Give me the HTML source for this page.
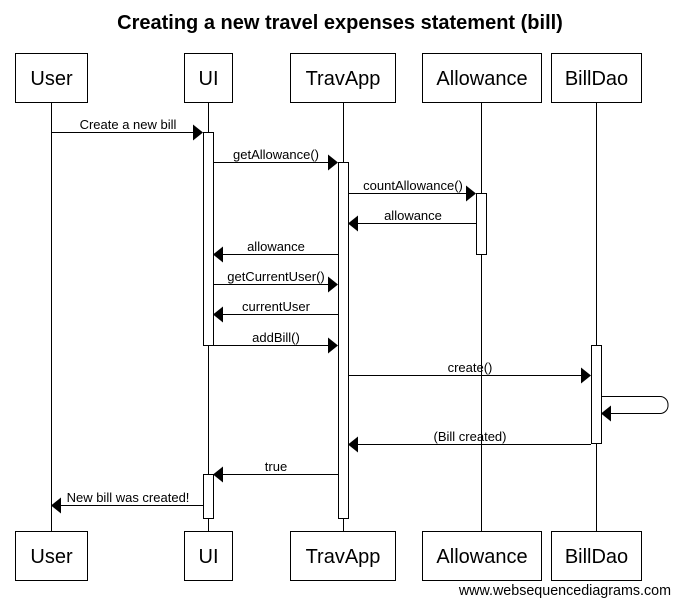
<!DOCTYPE html>
<html><head><meta charset="utf-8"><style>
html,body{margin:0;padding:0;background:#fff;}
svg{display:block;}
text{font-family:"Liberation Sans",Arial,sans-serif;fill:#000;}
</style></head><body>
<svg width="678" height="605" viewBox="0 0 678 605" xmlns="http://www.w3.org/2000/svg">
<text x="340" y="29" font-size="20" font-weight="bold" text-anchor="middle">Creating a new travel expenses statement (bill)</text>
<g stroke="#000" stroke-width="1" fill="none">
<line x1="51.5" y1="102" x2="51.5" y2="532"/>
<line x1="208.5" y1="102" x2="208.5" y2="532"/>
<line x1="343.5" y1="102" x2="343.5" y2="532"/>
<line x1="481.5" y1="102" x2="481.5" y2="532"/>
<line x1="596.5" y1="102" x2="596.5" y2="532"/>
</g>
<g stroke="#000" fill="#fff">
<rect x="15.5" y="53.5" width="72" height="49"/>
<rect x="184.5" y="53.5" width="48" height="49"/>
<rect x="290.5" y="53.5" width="105" height="49"/>
<rect x="422.5" y="53.5" width="119" height="49"/>
<rect x="551.5" y="53.5" width="90" height="49"/>
<rect x="15.5" y="531.5" width="72" height="49"/>
<rect x="184.5" y="531.5" width="48" height="49"/>
<rect x="290.5" y="531.5" width="105" height="49"/>
<rect x="422.5" y="531.5" width="119" height="49"/>
<rect x="551.5" y="531.5" width="90" height="49"/>
</g>
<g font-size="20" text-anchor="middle">
<text x="51.5" y="85">User</text><text x="208.5" y="85">UI</text><text x="343" y="85">TravApp</text><text x="482" y="85">Allowance</text><text x="596.5" y="85">BillDao</text>
<text x="51.5" y="563">User</text><text x="208.5" y="563">UI</text><text x="343" y="563">TravApp</text><text x="482" y="563">Allowance</text><text x="596.5" y="563">BillDao</text>
</g>
<g stroke="#000" fill="#fff">
<rect x="203.5" y="132.5" width="10" height="213"/>
<rect x="203.5" y="474.5" width="10" height="44"/>
<rect x="338.5" y="162.5" width="10" height="356"/>
<rect x="476.5" y="193.5" width="10" height="61"/>
<rect x="591.5" y="345.5" width="10" height="98"/>
</g>
<g stroke="#000" stroke-width="1" fill="none">
<line x1="51" y1="132.5" x2="194" y2="132.5"/>
<line x1="213" y1="162.5" x2="329" y2="162.5"/>
<line x1="348" y1="193.5" x2="467" y2="193.5"/>
<line x1="476" y1="223.5" x2="357" y2="223.5"/>
<line x1="338" y1="254.5" x2="222" y2="254.5"/>
<line x1="213" y1="284.5" x2="329" y2="284.5"/>
<line x1="338" y1="314.5" x2="222" y2="314.5"/>
<line x1="213" y1="345.5" x2="329" y2="345.5"/>
<line x1="348" y1="375.5" x2="582" y2="375.5"/>
<path d="M601 396.5 H660 A8 8 0 0 1 668 404.5 V405 A8 8 0 0 1 660 413.5 H610"/>
<line x1="591" y1="444.5" x2="357" y2="444.5"/>
<line x1="338" y1="474.5" x2="222" y2="474.5"/>
<line x1="203" y1="505.5" x2="60" y2="505.5"/>
</g>
<g fill="#000">
<polygon points="193,124.5 203,132.5 193,140.5"/>
<polygon points="328,154.5 338,162.5 328,170.5"/>
<polygon points="466,185.5 476,193.5 466,201.5"/>
<polygon points="358,215.5 348,223.5 358,231.5"/>
<polygon points="223,246.5 213,254.5 223,262.5"/>
<polygon points="328,276.5 338,284.5 328,292.5"/>
<polygon points="223,306.5 213,314.5 223,322.5"/>
<polygon points="328,337.5 338,345.5 328,353.5"/>
<polygon points="581,367.5 591,375.5 581,383.5"/>
<polygon points="611,405.5 601,413.5 611,421.5"/>
<polygon points="358,436.5 348,444.5 358,452.5"/>
<polygon points="223,466.5 213,474.5 223,482.5"/>
<polygon points="61,497.5 51,505.5 61,513.5"/>
</g>
<g font-size="13" text-anchor="middle">
<text x="128" y="129">Create a new bill</text>
<text x="276" y="159">getAllowance()</text>
<text x="413" y="190">countAllowance()</text>
<text x="413" y="220">allowance</text>
<text x="276" y="251">allowance</text>
<text x="276" y="281">getCurrentUser()</text>
<text x="276" y="311">currentUser</text>
<text x="276" y="342">addBill()</text>
<text x="470" y="372">create()</text>
<text x="470" y="441">(Bill created)</text>
<text x="276" y="471">true</text>
<text x="128" y="502">New bill was created!</text>
</g>
<text x="671" y="595" font-size="14.3" text-anchor="end">www.websequencediagrams.com</text>
</svg>
</body></html>
